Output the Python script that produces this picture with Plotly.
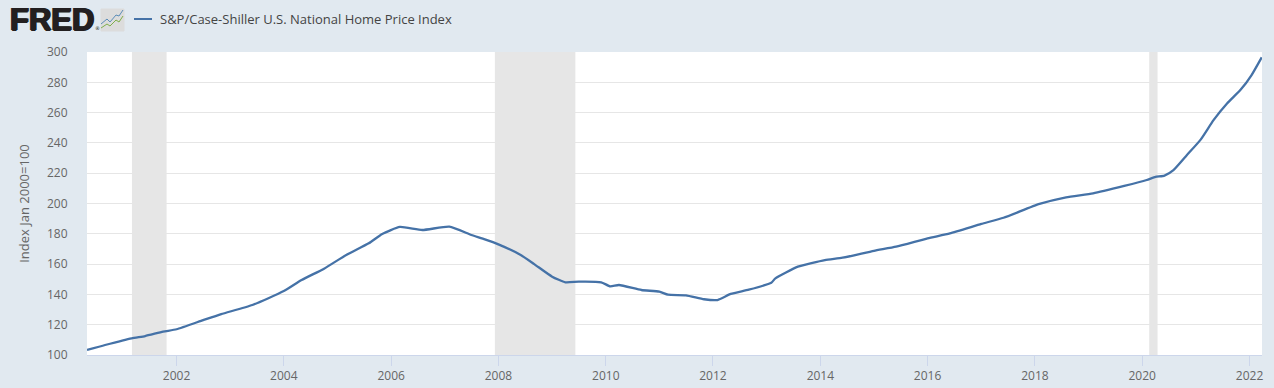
import plotly.graph_objects as go

dates = ["2000-05-01","2000-09-01","2001-03-01","2001-06-01","2001-10-01","2002-01-01","2002-07-01","2002-11-01",
"2003-06-01","2004-01-01","2004-05-01","2004-10-01","2005-03-01","2005-08-01","2005-11-01","2006-03-01","2006-08-01",
"2007-02-01","2007-07-01","2007-10-01","2008-01-01","2008-06-01","2008-09-01","2009-01-01","2009-04-01","2009-07-01",
"2009-12-01","2010-02-01","2010-04-01","2010-09-01","2011-01-01","2011-03-01","2011-07-01","2011-11-01","2012-02-01",
"2012-05-01","2012-09-01","2013-02-01","2013-03-01","2013-08-01","2014-02-01","2014-06-01","2015-01-01","2015-06-01",
"2016-01-01","2016-06-01","2017-01-01","2017-06-01","2018-02-01","2018-08-01","2019-02-01","2019-09-01","2020-02-01",
"2020-04-01","2020-06-01","2020-08-01","2020-11-01","2021-02-01","2021-05-01","2021-08-01","2021-11-01","2022-01-15","2022-03-25"]
values = [103.3,106.6,111,112.5,115.4,117,123,127,133,142.2,149.5,157,166,173.7,179.9,184.5,182.5,184.7,179.2,176.3,173,
166,160,151.7,148,148.4,148,145.3,146.2,142.9,141.8,139.8,139.4,136.8,136.3,140.3,143.1,147.7,150.6,158.3,162.7,164.2,
168.8,171.5,177,180.3,186.5,190.6,199.7,204.1,206.7,211.6,215.5,217.5,218.4,222,232,242,255,266,275,284.8,296.5]

recession_starts = ["2001-03-03","2007-12-08","2020-02-18"]
recession_ends = ["2001-10-25","2009-06-08","2020-04-15"]
series_name = "S&P/Case-Shiller U.S. National Home Price Index"
axis_title = "Index Jan 2000=100"
y_ticks = list(range(100, 301, 20))
x_ticks = [f"{y}-01-01" for y in range(2002, 2023, 2)]
x_labels = [str(y) for y in range(2002, 2023, 2)]

W, H = 1274, 388
L, R, T, B = 87, 12, 52, 33
def px(x): return (x - L) / (W - L - R)
def py(y): return 1 - (y - T) / (H - T - B)

fig = go.Figure(go.Scatter(x=dates, y=values, mode="lines", line=dict(color="#4572a7", width=2.3, shape="spline", smoothing=0.5),
                           name=series_name, showlegend=False, hoverinfo="x+y"))

for s, e in zip(recession_starts, recession_ends):
    fig.add_vrect(x0=s, x1=e, fillcolor="#e6e6e6", line_width=0, layer="below")

def pline(pts):
    return "M" + " L".join(f"{px(a)},{py(b)}" for a, b in pts)

shapes = [
    dict(type="line", xref="paper", yref="paper", x0=px(134), x1=px(152), y0=py(19), y1=py(19),
         line=dict(color="#4572a7", width=2)),
    dict(type="rect", xref="paper", yref="paper", x0=px(101), x1=px(124), y0=py(9), y1=py(31),
         fillcolor="#dcdcdc", line=dict(color="#dcdcdc", width=1)),
    dict(type="path", xref="paper", yref="paper", path=pline([(101,24),(107,19),(110,22),(116,15),(119,16),(123,10)]),
         line=dict(color="#5b8db8", width=1)),
    dict(type="path", xref="paper", yref="paper", path=pline([(101,28),(107,24),(110,26),(116,20),(119,22),(123,16)]),
         line=dict(color="#7fae4a", width=1)),
]
for s in shapes:
    fig.add_shape(**s)

fig.add_annotation(xref="paper", yref="paper", x=px(8), y=py(19.5), text="<b>FRED</b>", showarrow=False, xanchor="left",
                   yanchor="middle", font=dict(family="Liberation Sans", size=31, color="#231f20",
                                               shadow="1px 0 0 #231f20, -1px 0 0 #231f20, 0 0.5px 0 #231f20"))
fig.add_annotation(xref="paper", yref="paper", x=px(93), y=py(28), text="®", showarrow=False, xanchor="left",
                   yanchor="middle", font=dict(family="DejaVu Sans", size=5, color="#231f20"))
fig.add_annotation(xref="paper", yref="paper", x=px(158), y=py(19), text=series_name, showarrow=False, xanchor="left",
                   yanchor="middle", font=dict(family="Open Sans", size=13, color="#444444"))

fig.update_layout(
    width=W, height=H, margin=dict(l=L, r=R, t=T, b=B, autoexpand=False),
    paper_bgcolor="#e1e9f0", plot_bgcolor="#ffffff", showlegend=False,
    font=dict(family="Open Sans", size=12, color="#666666"),
    xaxis=dict(range=["2000-05-01", "2022-03-27"], tickmode="array", tickvals=x_ticks, ticktext=x_labels,
               showgrid=False, ticks="outside", ticklen=10, tickcolor="#ccd6eb", tickwidth=1,
               showline=True, linecolor="#ccd6eb", linewidth=1, zeroline=False, tickfont=dict(size=12, color="#666666")),
    yaxis=dict(range=[100, 300], tickmode="array", tickvals=y_ticks, showgrid=True, gridcolor="#e6e6e6", gridwidth=1,
               zeroline=False, showline=False, ticks="outside", ticklen=16, tickcolor="rgba(0,0,0,0)",
               title=dict(text=axis_title, standoff=14, font=dict(size=13, color="#666666")),
               tickfont=dict(size=12, color="#666666")),
)
fig.write_html("out.html", post_script="document.body.style.margin='0';", config={"displayModeBar": False})
